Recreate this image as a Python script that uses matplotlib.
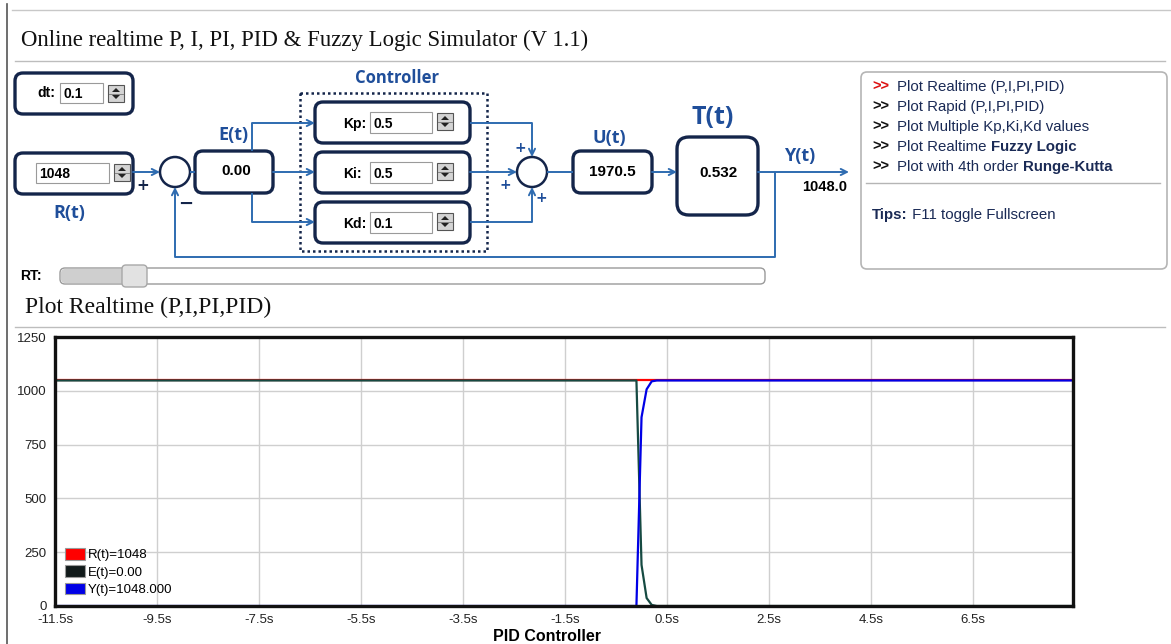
import matplotlib.pyplot as plt
from matplotlib.patches import FancyBboxPatch, Rectangle, Circle, Polygon, Patch

# ---- data ----
time_s = [-11.5, -0.1, 0.0, 0.1, 0.2, 0.3, 8.46]
r_vals = [1048, 1048, 1048, 1048, 1048, 1048, 1048]
e_vals = [1048, 1048, 191, 37, 5, 0, 0]
y_vals = [0, 0, 877, 1007, 1044, 1048, 1048]

x_ticks = [-11.5, -9.5, -7.5, -5.5, -3.5, -1.5, 0.5, 2.5, 4.5, 6.5]
x_tick_labels = ['-11.5s', '-9.5s', '-7.5s', '-5.5s', '-3.5s', '-1.5s',
                 '0.5s', '2.5s', '4.5s', '6.5s']
y_ticks = [0, 250, 500, 750, 1000, 1250]
legend_labels = ['R(t)=1048', 'E(t)=0.00', 'Y(t)=1048.000']
series_colors = ['#ff0000', '#111a1a', '#0000e6']
e_line_color = '#164a42'

# block diagram values
dt_val = '0.1'
r_set = '1048'
e_now = '0.00'
kp, ki, kd = '0.5', '0.5', '0.1'
u_now = '1970.5'
t_now = '0.532'
y_now = '1048.0'

menu_items = [(">>", "Plot Realtime (P,I,PI,PID)", ""),
              (">>", "Plot Rapid (P,I,PI,PID)", ""),
              (">>", "Plot Multiple Kp,Ki,Kd values", ""),
              (">>", "Plot Realtime ", "Fuzzy Logic"),
              (">>", "Plot with 4th order ", "Runge-Kutta")]

W, H = 1171, 644
fig = plt.figure(figsize=(W / 100, H / 100), dpi=100)
bg = fig.add_axes([0, 0, 1, 1])
bg.set_xlim(0, W)
bg.set_ylim(H, 0)
bg.axis('off')

navy = '#14254a'
wire = '#2e6bb0'
blue_txt = '#1f4e9a'
sans = 'Liberation Sans'
serif = 'Liberation Serif'
calib = 'Open Sans'


def rbox(x0, y0, x1, y1, ec=navy, lw=2.4, r=8, fc='white'):
    bg.add_patch(FancyBboxPatch((x0, y0), x1 - x0, y1 - y0,
                                boxstyle=f'round,pad=0,rounding_size={r}',
                                ec=ec, fc=fc, lw=lw))


def field(x0, y0, x1, y1, txt):
    bg.add_patch(Rectangle((x0, y0), x1 - x0, y1 - y0, fc='white', ec='#9a9a9a', lw=0.8))
    bg.text(x0 + 3, (y0 + y1) / 2 + 1, txt, ha='left', va='center',
            fontsize=10, fontweight='bold', family=sans)


def spinner(x, y):
    bg.add_patch(Rectangle((x, y), 16, 17, fc='#d4d4d4', ec='#555555', lw=0.8))
    bg.add_patch(Polygon([[x + 4, y + 7], [x + 12, y + 7], [x + 8, y + 3]], closed=True,
                         fc='#222222', ec='none'))
    bg.add_patch(Polygon([[x + 4, y + 10], [x + 12, y + 10], [x + 8, y + 14]], closed=True,
                         fc='#222222', ec='none'))
    bg.plot([x + 1, x + 15], [y + 8.5, y + 8.5], color='#777777', lw=0.6)


def seg(xs, ys):
    bg.plot(xs, ys, color=wire, lw=1.4, solid_capstyle='butt')


def arrow(x0, y0, x1, y1):
    bg.annotate('', xy=(x1, y1), xytext=(x0, y0),
                arrowprops=dict(arrowstyle='->', color=wire, lw=1.4, mutation_scale=11,
                                shrinkA=0, shrinkB=0))


# ---- page frame and headings ----
bg.plot([7, 7], [4, H], color='#555555', lw=1.2)
bg.plot([12, W], [10, 10], color='#c8c8c8', lw=1.0)
bg.text(21, 40, 'Online realtime P, I, PI, PID & Fuzzy Logic Simulator (V 1.1)',
        ha='left', va='center', fontsize=16.4, family=serif, color='#111111')
bg.plot([15, 1165], [61, 61], color='#bdbdbd', lw=1.0)

# ---- block diagram ----
rbox(15, 73, 133, 114)
bg.text(37, 93, 'dt:', ha='left', va='center', fontsize=10, fontweight='bold', family=sans)
field(60, 83, 103, 103, dt_val)
spinner(108, 85)

rbox(15, 153, 133, 194)
field(36, 163, 109, 183, r_set)
spinner(114, 164)
bg.text(69, 213, 'R(t)', ha='center', va='center', fontsize=13, fontweight='bold',
        family=calib, color=blue_txt)

arrow(133, 172, 160, 172)
bg.add_patch(Circle((175, 172), 15, fc='white', ec=navy, lw=1.8))
bg.text(143, 185, '+', ha='center', va='center', fontsize=11, fontweight='bold', color=navy)
bg.text(186, 204, '\u2212', ha='center', va='center', fontsize=13, fontweight='bold', color=navy)

seg([190, 195], [172, 172])
rbox(195, 151, 273, 193)
bg.text(236, 171, e_now, ha='center', va='center', fontsize=11, fontweight='bold', family=sans)
bg.text(233, 135, 'E(t)', ha='center', va='center', fontsize=13, fontweight='bold',
        family=calib, color=blue_txt)

# branches into controller
seg([252, 252], [151, 123])
arrow(252, 123, 315, 123)
arrow(273, 172, 315, 172)
seg([252, 252], [193, 222])
arrow(252, 222, 315, 222)

bg.add_patch(Rectangle((300, 93), 187, 158, fc='none', ec=navy, lw=1.8, ls=(0, (1, 1.2))))
bg.text(397, 78, 'Controller', ha='center', va='center', fontsize=12, fontweight='bold',
        family=calib, color=blue_txt)
for (y0, y1), lab, val in zip([(102, 143), (152, 193), (202, 243)],
                              ['Kp:', 'Ki:', 'Kd:'], [kp, ki, kd]):
    rbox(315, y0, 470, y1)
    bg.text(343, (y0 + y1) / 2 + 1, lab, ha='left', va='center', fontsize=10,
            fontweight='bold', family=sans)
    field(370, y0 + 10, 432, y1 - 10, val)
    spinner(437, y0 + 11)

# into summing junction
seg([470, 532], [123, 123])
arrow(532, 123, 532, 157)
arrow(470, 172, 517, 172)
seg([470, 532], [222, 222])
arrow(532, 222, 532, 187)
bg.add_patch(Circle((532, 172), 15, fc='white', ec=navy, lw=1.8))
bg.text(520, 148, '+', ha='center', va='center', fontsize=10, fontweight='bold', color=blue_txt)
bg.text(505, 185, '+', ha='center', va='center', fontsize=10, fontweight='bold', color=blue_txt)
bg.text(541, 198, '+', ha='center', va='center', fontsize=10, fontweight='bold', color=blue_txt)

seg([547, 573], [172, 172])
rbox(573, 151, 652, 193)
bg.text(612, 172, u_now, ha='center', va='center', fontsize=11, fontweight='bold', family=sans)
bg.text(609, 138, 'U(t)', ha='center', va='center', fontsize=13, fontweight='bold',
        family=calib, color=blue_txt)

arrow(652, 172, 677, 172)
rbox(677, 137, 758, 215, r=12)
bg.text(719, 173, t_now, ha='center', va='center', fontsize=11, fontweight='bold', family=sans)
bg.text(713, 117, 'T(t)', ha='center', va='center', fontsize=18, fontweight='bold',
        family=calib, color=blue_txt)

arrow(758, 172, 849, 172)
bg.text(800, 156, 'Y(t)', ha='center', va='center', fontsize=13, fontweight='bold',
        family=calib, color=blue_txt)
bg.text(802, 187, y_now, ha='left', va='center', fontsize=10.5, fontweight='bold', family=sans)

# feedback path
seg([775, 775, 175], [172, 257, 257])
arrow(175, 257, 175, 187)

# RT slider
bg.text(20, 276, 'RT:', ha='left', va='center', fontsize=10, fontweight='bold', family=sans)
rbox(60, 268, 765, 284, ec='#9a9a9a', lw=1.0, r=5, fc='white')
rbox(61, 269, 130, 283, ec='none', lw=0, r=4, fc='#cfcfcf')
rbox(122, 265, 147, 287, ec='#a8a8a8', lw=1.0, r=4, fc='#e2e2e2')

# ---- menu panel ----
rbox(861, 72, 1167, 269, ec='#b5b5b5', lw=1.2, r=6)
renderer = fig.canvas.get_renderer()
for i, (mark, txt, bold) in enumerate(menu_items):
    yy = 87 + i * 20
    bg.text(872, yy, mark, ha='left', va='center', fontsize=10.5, fontweight='bold',
            family=sans, color='#dd1111' if i == 0 else '#111111')
    t1 = bg.text(897, yy, txt, ha='left', va='center', fontsize=10.8, family=sans,
                 color='#1a2a55')
    if bold:
        x1 = t1.get_window_extent(renderer=renderer).x1
        bg.text(x1, yy, bold, ha='left', va='center', fontsize=10.8, fontweight='bold',
                family=sans, color='#1a2a55')
bg.plot([866, 1160], [183, 183], color='#b5b5b5', lw=1.0)
t2 = bg.text(872, 215, 'Tips:', ha='left', va='center', fontsize=10.8, fontweight='bold',
             family=sans, color='#1a2a55')
bg.text(t2.get_window_extent(renderer=renderer).x1, 215, ' F11 toggle Fullscreen',
        ha='left', va='center', fontsize=10.8, family=sans, color='#1a2a55')

# ---- plot section heading ----
bg.text(25, 307, 'Plot Realtime (P,I,PI,PID)', ha='left', va='center', fontsize=17,
        family=serif, color='#111111')
bg.plot([15, 1165], [327, 327], color='#bdbdbd', lw=1.0)

# ---- realtime chart ----
ax_l, ax_r, ax_t, ax_b = 55, 1073, 337, 606
ax = fig.add_axes([ax_l / W, 1 - ax_b / H, (ax_r - ax_l) / W, (ax_b - ax_t) / H])
ax.plot(time_s, r_vals, color=series_colors[0], lw=1.6)
ax.plot(time_s, e_vals, color=e_line_color, lw=1.6)
ax.plot(time_s, y_vals, color=series_colors[2], lw=1.6)
ax.set_xlim(-11.5, 8.46)
ax.set_ylim(0, 1250)
ax.set_xticks(x_ticks)
ax.set_xticklabels(x_tick_labels)
ax.set_yticks(y_ticks)
ax.tick_params(length=0, labelsize=9.5, pad=6, colors='#222222')
for lab in ax.get_xticklabels() + ax.get_yticklabels():
    lab.set_family(sans)
ax.grid(True, color='#cfcfcf', lw=1.0)
ax.set_axisbelow(True)
for sp in ax.spines.values():
    sp.set_linewidth(2.4)
    sp.set_color('#111111')
ax.set_xlabel('PID Controller', fontsize=11.5, fontweight='bold', family=sans, labelpad=1)
ax.xaxis.set_label_coords((547 - ax_l) / (ax_r - ax_l), -0.085)
handles = [Patch(facecolor=c, edgecolor='#9a9a9a', lw=0.8) for c in series_colors]
ax.legend(handles, legend_labels, loc='lower left', frameon=False,
          handlelength=1.5, handleheight=1.0, handletextpad=0.25, labelspacing=0.3,
          borderaxespad=0.45, borderpad=0.3, prop={'family': sans, 'size': 9.5})

fig.savefig('out.png', dpi=100)
